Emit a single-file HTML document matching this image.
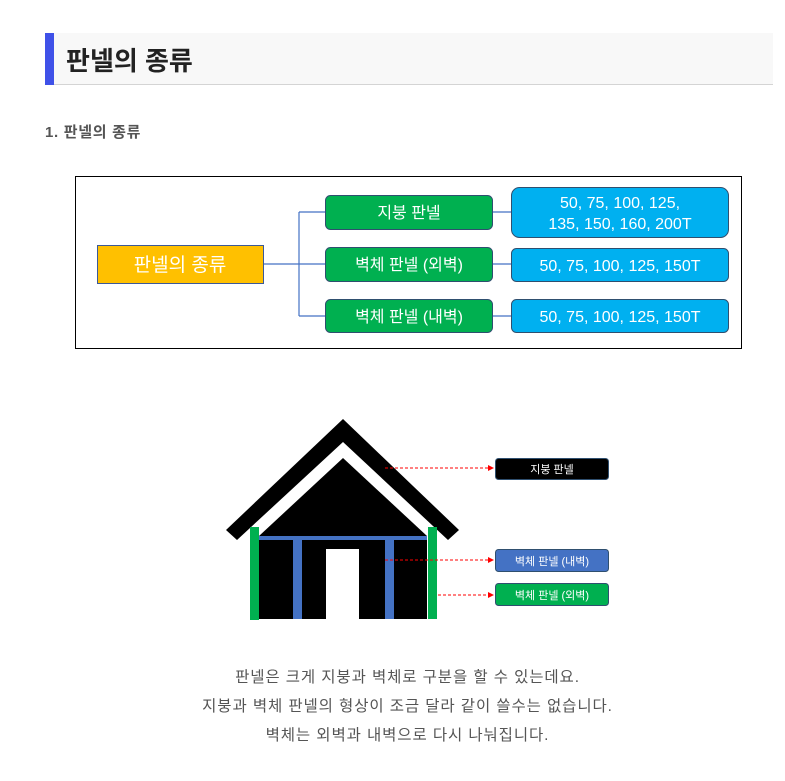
<!DOCTYPE html>
<html><head><meta charset="utf-8"><style>
body{margin:0;width:785px;height:781px;background:#fff;font-family:"Liberation Sans","Noto Sans CJK KR",sans-serif;position:relative;overflow:hidden}
.t{position:absolute;left:45px;top:33px;width:728px;height:51px;background:#f8f8f8;border-bottom:1px solid #d4d4d4}
.t:before{content:"";position:absolute;left:0;top:0;width:9px;height:52px;background:#3f51e8}
.t span{position:absolute;left:21px;top:8px;font-size:26px;font-weight:bold;color:#222}
.s{position:absolute;left:45px;top:121px;font-size:15px;font-weight:bold;color:#555;letter-spacing:0.7px}
.p{position:absolute;left:15px;width:785px;text-align:center;font-size:15.5px;color:#555;letter-spacing:0.9px}
</style></head><body>
<div class="t"><span>판넬의 종류</span></div>
<div class="s">1. 판넬의 종류</div>
<svg width="785" height="781" style="position:absolute;left:0;top:0" font-family="Liberation Sans, Noto Sans CJK KR, sans-serif">
<rect x="75.5" y="176.5" width="666" height="172" fill="none" stroke="#000"/>
<g stroke="#4472c4" stroke-width="1.2" fill="none">
<path d="M263 264H325M299 212V316M299 212H325M299 316H325M492 212H511M492 264H511M492 316H511"/>
</g>
<rect x="97.5" y="245.5" width="166" height="38" fill="#ffc000" stroke="#3b5998"/>
<text x="180" y="271" fill="#fff" font-size="19" text-anchor="middle">판넬의 종류</text>
<g fill="#00b050" stroke="#2f4f6f">
<rect x="325.5" y="195.5" width="167" height="34" rx="5"/>
<rect x="325.5" y="247.5" width="167" height="34" rx="5"/>
<rect x="325.5" y="299.5" width="167" height="33" rx="5"/>
</g>
<g fill="#fff" font-size="16" text-anchor="middle">
<text x="409" y="218">지붕 판넬</text>
<text x="409" y="270">벽체 판넬 (외벽)</text>
<text x="409" y="322">벽체 판넬 (내벽)</text>
</g>
<g fill="#00b0f0" stroke="#2f4f6f">
<rect x="511.5" y="187.5" width="217" height="50" rx="8"/>
<rect x="511.5" y="248.5" width="217" height="33" rx="5"/>
<rect x="511.5" y="299.5" width="217" height="33" rx="5"/>
</g>
<g fill="#fff" font-size="16" text-anchor="middle">
<text x="620" y="208">50, 75, 100, 125,</text>
<text x="620" y="229">135, 150, 160, 200T</text>
<text x="620" y="271">50, 75, 100, 125, 150T</text>
<text x="620" y="322">50, 75, 100, 125, 150T</text>
</g>
<polygon points="343,419 459,530 448,540 343,442 237,540 226,530" fill="#000"/>
<polygon points="343,458 427,536 259,536" fill="#000"/>
<rect x="259" y="536" width="168" height="83" fill="#000"/>
<rect x="259" y="536" width="168" height="4" fill="#4472c4"/>
<rect x="293" y="536" width="9" height="83" fill="#4472c4"/>
<rect x="385" y="536" width="9" height="83" fill="#4472c4"/>
<rect x="326" y="549" width="33" height="70" fill="#fff"/>
<rect x="250" y="527" width="9" height="93" fill="#00b050"/>
<rect x="428" y="527" width="9" height="92" fill="#00b050"/>
<g stroke="#f00" stroke-dasharray="3,2" stroke-width="1">
<path d="M385 468H488M385 560H488M438 595H488"/>
</g>
<g fill="#f00"><path d="M494 468l-6-3v6z"/><path d="M494 560l-6-3v6z"/><path d="M494 595l-6-3v6z"/></g>
<rect x="495.5" y="458.5" width="113" height="21" rx="3" fill="#000" stroke="#2f4f6f"/>
<rect x="495.5" y="549.5" width="113" height="22" rx="3" fill="#4472c4" stroke="#2f4f6f"/>
<rect x="495.5" y="583.5" width="113" height="22" rx="3" fill="#00b050" stroke="#2f4f6f"/>
<g fill="#fff" font-size="11" text-anchor="middle">
<text x="552" y="473">지붕 판넬</text>
<text x="552" y="565">벽체 판넬 (내벽)</text>
<text x="552" y="599">벽체 판넬 (외벽)</text>
</g>
</svg>
<div class="p" style="top:665px">판넬은 크게 지붕과 벽체로 구분을 할 수 있는데요.</div>
<div class="p" style="top:694px">지붕과 벽체 판넬의 형상이 조금 달라 같이 쓸수는 없습니다.</div>
<div class="p" style="top:723px">벽체는 외벽과 내벽으로 다시 나눠집니다.</div>
</body></html>
